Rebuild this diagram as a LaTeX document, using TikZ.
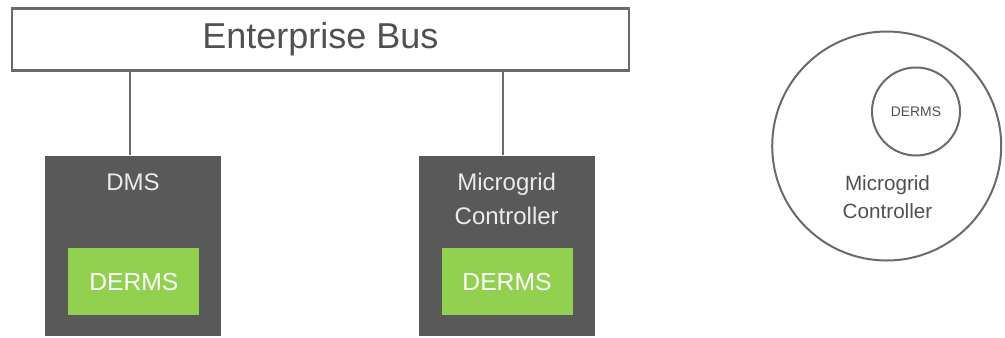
\documentclass[tikz,border=0pt]{standalone}
\usepackage{fontspec}
\setmainfont{Liberation Sans}
\definecolor{linegray}{HTML}{6A6A6A}
\definecolor{boxgray}{HTML}{595959}
\definecolor{dermsgreen}{HTML}{92D050}
\definecolor{textgray}{HTML}{505050}
\tikzset{
  px/.style={x=0.75pt,y=-0.75pt},
  busbox/.style={draw=linegray,line width=1.6pt,fill=white,inner sep=0pt,
    minimum width=617*0.75pt,minimum height=62*0.75pt,
    font=\fontsize{27}{30}\selectfont,text=textgray},
  sysbox/.style={fill=boxgray,inner sep=0pt,
    minimum width=176*0.75pt,minimum height=180*0.75pt},
  dermsbox/.style={fill=dermsgreen,inner sep=0pt,text=white,
    minimum width=131*0.75pt,minimum height=67*0.75pt,
    font=\fontsize{18.5}{20}\selectfont},
  syslabel/.style={text=white!92!black,align=center,inner sep=0pt,
    font=\fontsize{18}{26}\selectfont},
  link/.style={draw=linegray,line width=1.6pt},
  ring/.style={draw=linegray,line width=1.5pt,circle,inner sep=0pt},
  ringlabel/.style={text=textgray,align=center,inner sep=0pt},
}
\begin{document}
\begin{tikzpicture}[px]
\useasboundingbox (0,0) rectangle (1005,337);

% enterprise bus
\node[busbox] (bus) at (320.4,39.5) {Enterprise Bus};

% DMS with embedded DERMS
\node[sysbox] (dms) at (133.2,245.7) {};
\node[syslabel] (dmslabel) at (133,182) {DMS};
\node[dermsbox] (derms1) at (133.8,281.7) {DERMS};

% microgrid controller with embedded DERMS
\node[sysbox] (mgc) at (506.7,245.7) {};
\node[syslabel] (mgclabel) at (506.7,199) {Microgrid\\Controller};
\node[dermsbox] (derms2) at (507,281.7) {DERMS};

% connections to the bus
\coordinate (tapA) at (130,0);
\coordinate (tapB) at (503,0);
\draw[link] (bus.south -| tapA) -- (dms.north -| tapA);
\draw[link] (bus.south -| tapB) -- (mgc.north -| tapB);

% nested view: DERMS inside the microgrid controller
\node[ring,minimum size=229*0.75pt] (outer) at (886.7,146) {};
\node[ring,minimum size=88*0.75pt] (inner) at (916,111.5) {};
\node[ringlabel,font=\fontsize{10.4}{12}\selectfont] (innerlabel) at (inner.center) {DERMS};
\node[ringlabel,font=\fontsize{15.5}{21}\selectfont] (outerlabel) at (887.5,197) {Microgrid\\Controller};
\end{tikzpicture}
\end{document}
